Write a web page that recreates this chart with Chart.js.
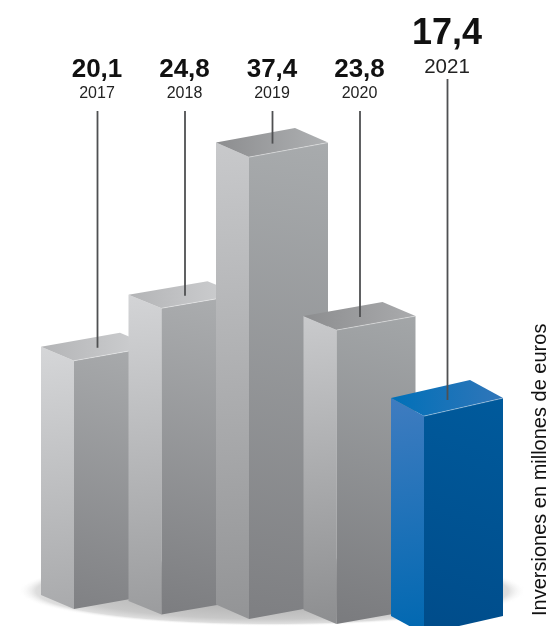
<!DOCTYPE html>
<html>
<head>
<meta charset="utf-8">
<script src="https://cdn.jsdelivr.net/npm/chart.js@4/dist/chart.umd.min.js"></script>
<style>html,body{margin:0;padding:0;background:#fff;overflow:hidden}canvas{display:block}</style>
</head>
<body>
<canvas id="c" width="551" height="626"></canvas>
<script>
const years = ['2017', '2018', '2019', '2020', '2021'];
const values = [20.1, 24.8, 37.4, 23.8, 17.4];
const valueLabels = ['20,1', '24,8', '37,4', '23,8', '17,4'];
const axisNote = 'Inversiones en millones de euros';

// Perspective styling (not data)
const baseShift = [0, 5.5, 10, 15, 22];
const bottomExtra = [0, 0, 0, 0, 3];
const depth = [14, 13.5, 14.5, 14, 18];
const topColors = [['#b3b4b6','#d0d1d3'],['#b3b4b6','#d0d1d3'],['#8c8d8f','#afb1b3'],['#8c8d8f','#aaabad'],['#0070b8','#3176b9']];
const leftColors = [['#d5d6d8','#a9aaac'],['#d3d4d6','#9b9c9e'],['#c8c9cb','#939496'],['#c9cacc','#8d8e90'],['#3f7cc0','#0068b1']];
const rightColors = [['#a9abad','#808184'],['#acaeb0','#7c7d80'],['#a8abad','#7e7f82'],['#a3a6a8','#7a7b7e'],['#005a9c','#004c8a']];
const LEFT_W = 33, RIGHT_W = 79;

function poly(ctx, pts, fill) {
  ctx.beginPath();
  pts.forEach((p, i) => i ? ctx.lineTo(p[0], p[1]) : ctx.moveTo(p[0], p[1]));
  ctx.closePath();
  ctx.fillStyle = fill;
  ctx.fill();
}
function grad(ctx, x0, y0, x1, y1, cols) {
  const g = ctx.createLinearGradient(x0, y0, x1, y1);
  g.addColorStop(0, cols[0]);
  g.addColorStop(1, cols[1]);
  return g;
}

const prism = {
  id: 'prism',
  beforeDatasetsDraw(chart) {
    const ctx = chart.ctx, xs = chart.scales.x;
    // floor shadow
    const cx = (xs.left + xs.right) / 2, cy = chart.chartArea.bottom - 18, rx = 254, ry = 35;
    ctx.save();
    ctx.translate(cx, cy);
    ctx.scale(1, ry / rx);
    const rg = ctx.createRadialGradient(0, 0, 0, 0, 0, rx);
    rg.addColorStop(0, '#a0a0a0');
    rg.addColorStop(0.8, '#c8c8c8');
    rg.addColorStop(0.93, '#dedede');
    rg.addColorStop(1, 'rgba(255,255,255,0)');
    ctx.fillStyle = rg;
    ctx.beginPath();
    ctx.arc(0, 0, rx, 0, Math.PI * 2);
    ctx.fill();
    ctx.restore();
  },
  afterDatasetsDraw(chart) {
    const ctx = chart.ctx, meta = chart.getDatasetMeta(0);
    ctx.save();
    meta.data.forEach((el, i) => {
      const fx = el.x - el.width / 2 + LEFT_W;
      const top = el.y + baseShift[i];
      const bot = el.base + baseShift[i] + bottomExtra[i];
      const d = depth[i], lx = fx - LEFT_W, rx = fx + RIGHT_W;
      const bx = fx + RIGHT_W - LEFT_W;
      poly(ctx, [[lx, top - d], [fx, top], [fx, bot], [lx, bot - d]],
        grad(ctx, lx, top - d, fx, bot, leftColors[i]));
      poly(ctx, [[fx, top], [rx, top - d], [rx, bot - d], [fx, bot]],
        grad(ctx, rx, top - d, fx, bot, rightColors[i]));
      poly(ctx, [[lx, top - d], [bx, top - 2 * d], [rx, top - d], [fx, top]],
        grad(ctx, lx, 0, rx, 0, topColors[i]));
      // pale highlight on the near edge of the top
      ctx.strokeStyle = 'rgba(255,255,255,0.55)';
      ctx.lineWidth = 0.7;
      ctx.beginPath();
      ctx.moveTo(fx, top);
      ctx.lineTo(rx, top - d);
      ctx.stroke();
    });
    // leaders and labels
    const last = years.length - 1;
    ctx.textAlign = 'center';
    ctx.textBaseline = 'alphabetic';
    meta.data.forEach((el, i) => {
      const hero = i === last;
      const top = el.y + baseShift[i] - depth[i] + (hero ? 2 : 1);
      ctx.strokeStyle = '#4f5052';
      ctx.lineWidth = 1.8;
      ctx.beginPath();
      ctx.moveTo(el.x + 0.5, hero ? 79 : 111);
      ctx.lineTo(el.x + 0.5, top);
      ctx.stroke();
      ctx.fillStyle = '#111';
      ctx.font = 'bold ' + (hero ? 36 : 26) + 'px "Liberation Sans"';
      ctx.fillText(valueLabels[i], el.x, hero ? 44 : 77);
      ctx.fillStyle = '#222';
      ctx.font = (hero ? 20.5 : 16) + 'px "Liberation Sans"';
      ctx.fillText(years[i], el.x, hero ? 73 : 98);
    });
    // vertical note
    ctx.save();
    ctx.translate(546, 616);
    ctx.rotate(-Math.PI / 2);
    ctx.textAlign = 'left';
    ctx.fillStyle = '#111';
    ctx.font = '20px "Liberation Sans"';
    ctx.fillText(axisNote, 0, 0);
    ctx.restore();
    ctx.restore();
  }
};

new Chart(document.getElementById('c'), {
  type: 'bar',
  data: {
    labels: years,
    datasets: [{
      data: values,
      backgroundColor: 'rgba(0,0,0,0)',
      borderWidth: 0,
      barThickness: 112
    }]
  },
  options: {
    responsive: false,
    animation: false,
    layout: { padding: { left: 53.25, right: 60.25, top: 115, bottom: 17 } },
    plugins: { legend: { display: false }, title: { display: false }, tooltip: { enabled: false } },
    scales: {
      x: { display: false, type: 'category', offset: true },
      y: { display: false, type: 'linear', min: 0, max: 40 }
    }
  },
  plugins: [prism]
});
</script>
</body>
</html>
